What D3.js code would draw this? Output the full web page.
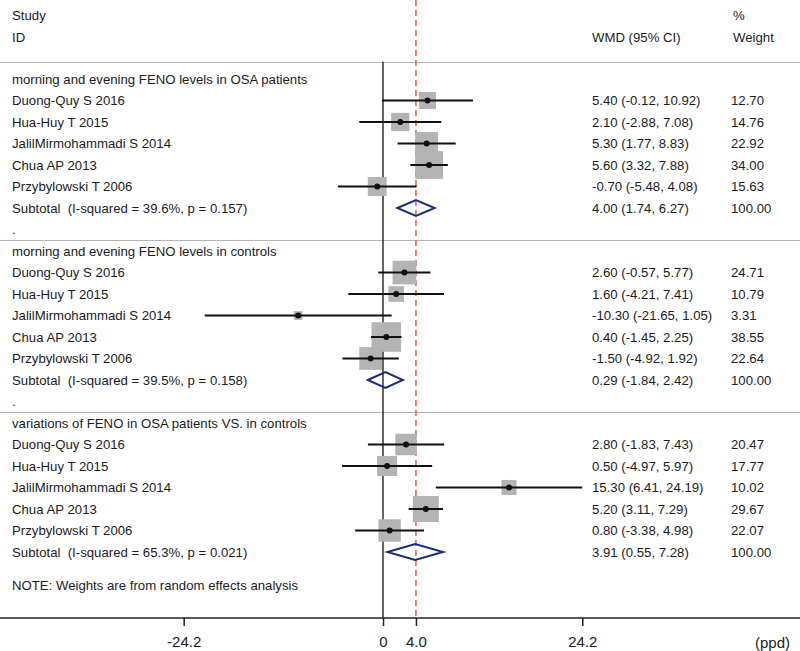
<!DOCTYPE html>
<html>
<head>
<meta charset="utf-8">
<script src="https://cdn.jsdelivr.net/npm/d3@7"></script>
<style>
  html, body { margin: 0; padding: 0; background: #fff; }
  svg { display: block; font-family: "Liberation Sans", Arial, sans-serif; }
  text { white-space: pre; }
</style>
</head>
<body>
<svg id="chart" width="800" height="651"></svg>
<script>
// ---------- data ----------
const groupTitles = [
  "morning and evening FENO levels in OSA patients",
  "morning and evening FENO levels in controls",
  "variations of FENO in OSA patients VS. in controls"
];
const studies = ["Duong-Quy S 2016", "Hua-Huy T 2015", "JalilMirmohammadi S 2014", "Chua AP 2013", "Przybylowski T 2006"];

const g1Est = [5.40, 2.10, 5.30, 5.60, -0.70];
const g1Lo  = [-0.12, -2.88, 1.77, 3.32, -5.48];
const g1Hi  = [10.92, 7.08, 8.83, 7.88, 4.08];
const g1W   = [12.70, 14.76, 22.92, 34.00, 15.63];

const g2Est = [2.60, 1.60, -10.30, 0.40, -1.50];
const g2Lo  = [-0.57, -4.21, -21.65, -1.45, -4.92];
const g2Hi  = [5.77, 7.41, 1.05, 2.25, 1.92];
const g2W   = [24.71, 10.79, 3.31, 38.55, 22.64];

const g3Est = [2.80, 0.50, 15.30, 5.20, 0.80];
const g3Lo  = [-1.83, -4.97, 6.41, 3.11, -3.38];
const g3Hi  = [7.43, 5.97, 24.19, 7.29, 4.98];
const g3W   = [20.47, 17.77, 10.02, 29.67, 22.07];

const subEst = [4.00, 0.29, 3.91];
const subLo  = [1.74, -1.84, 0.55];
const subHi  = [6.27, 2.42, 7.28];
const subI2  = ["39.6%", "39.5%", "65.3%"];
const subP   = ["0.157", "0.158", "0.021"];

const tickValues = [-24.2, 0, 4.0, 24.2];
const tickLabels = ["-24.2", "0", "4.0", "24.2"];
const overallLine = 4.0;
const axisUnit = "(ppd)";
const noteText = "NOTE: Weights are from random effects analysis";

// ---------- layout ----------
const svg = d3.select("#chart");
const W = 800;
const x = d3.scaleLinear().domain([-24.2, 24.2]).range([183.7, 582.3]);
const y = d3.scaleLinear().domain([0, 23]).range([79, 573.5]);
const boxSize = d3.scaleSqrt().domain([0, 34]).range([0, 27.8]);
const axisY = 618;
const textColor = "#1c1c1c";
const fs = 13.2;

const groups = [
  {est: g1Est, lo: g1Lo, hi: g1Hi, w: g1W},
  {est: g2Est, lo: g2Lo, hi: g2Hi, w: g2W},
  {est: g3Est, lo: g3Lo, hi: g3Hi, w: g3W}
];

const fmt = d => d.toFixed(2);

// headers
const hdr = svg.append("g").attr("fill", textColor).attr("font-size", fs);
hdr.append("text").attr("x", 12).attr("y", 15).attr("dy", "0.35em").text("Study");
hdr.append("text").attr("x", 12).attr("y", 37).attr("dy", "0.35em").text("ID");
hdr.append("text").attr("x", 592).attr("y", 37).attr("dy", "0.35em").text("WMD (95% CI)");
hdr.append("text").attr("x", 733).attr("y", 15).attr("dy", "0.35em").text("%");
hdr.append("text").attr("x", 733).attr("y", 37).attr("dy", "0.35em").text("Weight");

// separators
const sepRows = [-0.8, 7.5, 15.5];
svg.append("g").selectAll("line").data(sepRows).join("line")
  .attr("x1", 0).attr("x2", W)
  .attr("y1", d => Math.round(y(d)) + 0.5).attr("y2", d => Math.round(y(d)) + 0.5)
  .attr("stroke", "#b5b5b5").attr("stroke-width", 1.2);

// zero line
svg.append("line")
  .attr("x1", x(0)).attr("x2", x(0))
  .attr("y1", y(-0.8)).attr("y2", axisY)
  .attr("stroke", "#111").attr("stroke-width", 1.3);

// overall dashed line
svg.append("line")
  .attr("x1", x(overallLine)).attr("x2", x(overallLine))
  .attr("y1", 0).attr("y2", axisY)
  .attr("stroke", "#e8615c").attr("stroke-width", 1.6)
  .attr("stroke-dasharray", "6,4");

// rows
const marks = svg.append("g");
const labels = svg.append("g").attr("fill", textColor).attr("font-size", fs);

groups.forEach((g, gi) => {
  const base = gi * 8;
  labels.append("text").attr("x", 12).attr("y", y(base)).attr("dy", "0.35em").text(groupTitles[gi]);
  studies.forEach((s, si) => {
    const r = base + 1 + si;
    const yy = y(r);
    labels.append("text").attr("x", 12).attr("y", yy).attr("dy", "0.35em").text(s);
    labels.append("text").attr("x", 592).attr("y", yy).attr("dy", "0.35em")
      .text(`${fmt(g.est[si])} (${fmt(g.lo[si])}, ${fmt(g.hi[si])})`);
    labels.append("text").attr("x", 731).attr("y", yy).attr("dy", "0.35em").text(fmt(g.w[si]));
    const b = boxSize(g.w[si]);
    marks.append("rect")
      .attr("x", x(g.est[si]) - b / 2).attr("y", yy - b / 2)
      .attr("width", b).attr("height", b)
      .attr("fill", "#b4b4b4");
  });
  studies.forEach((s, si) => {
    const yy = y(base + 1 + si);
    marks.append("line")
      .attr("x1", x(g.lo[si])).attr("x2", x(g.hi[si]))
      .attr("y1", yy).attr("y2", yy)
      .attr("stroke", "#111").attr("stroke-width", 2);
    marks.append("circle")
      .attr("cx", x(g.est[si])).attr("cy", yy).attr("r", 3)
      .attr("fill", "#111");
  });
  // subtotal
  const sr = base + 6;
  const sy = y(sr);
  labels.append("text").attr("x", 12).attr("y", sy).attr("dy", "0.35em")
    .text(`Subtotal  (I-squared = ${subI2[gi]}, p = ${subP[gi]})`);
  labels.append("text").attr("x", 592).attr("y", sy).attr("dy", "0.35em")
    .text(`${fmt(subEst[gi])} (${fmt(subLo[gi])}, ${fmt(subHi[gi])})`);
  labels.append("text").attr("x", 731).attr("y", sy).attr("dy", "0.35em").text("100.00");
  const h = 8;
  const pts = [[x(subLo[gi]), sy], [x(subEst[gi]), sy - h], [x(subHi[gi]), sy], [x(subEst[gi]), sy + h]];
  marks.append("path")
    .attr("d", "M" + pts.map(p => p.join(",")).join("L") + "Z")
    .attr("fill", "none").attr("stroke", "#1f2a7a").attr("stroke-width", 2);
  if (gi < 2) {
    labels.append("text").attr("x", 12).attr("y", y(base + 7)).attr("dy", "0.35em").text(".");
  }
});

labels.append("text").attr("x", 12).attr("y", y(23.55)).attr("dy", "0.35em").text(noteText);

// axis
svg.append("line")
  .attr("x1", 0).attr("x2", W)
  .attr("y1", axisY).attr("y2", axisY)
  .attr("stroke", "#222").attr("stroke-width", 1.5);

const axis = d3.axisBottom(x)
  .tickValues(tickValues)
  .tickFormat((d, i) => tickLabels[i])
  .tickSize(8)
  .tickPadding(10);
const ag = svg.append("g").attr("transform", `translate(0,${axisY})`).call(axis);
ag.select(".domain").remove();
ag.selectAll(".tick line").attr("stroke", "#222").attr("stroke-width", 1.5);
ag.selectAll(".tick text")
  .attr("font-family", "'Liberation Sans', Arial, sans-serif")
  .attr("font-size", 15).attr("fill", "#222");

svg.append("text")
  .attr("x", 790).attr("y", 643).attr("dy", "0.35em")
  .attr("text-anchor", "end")
  .attr("font-size", 15).attr("fill", "#222")
  .text(axisUnit);
</script>
</body>
</html>
